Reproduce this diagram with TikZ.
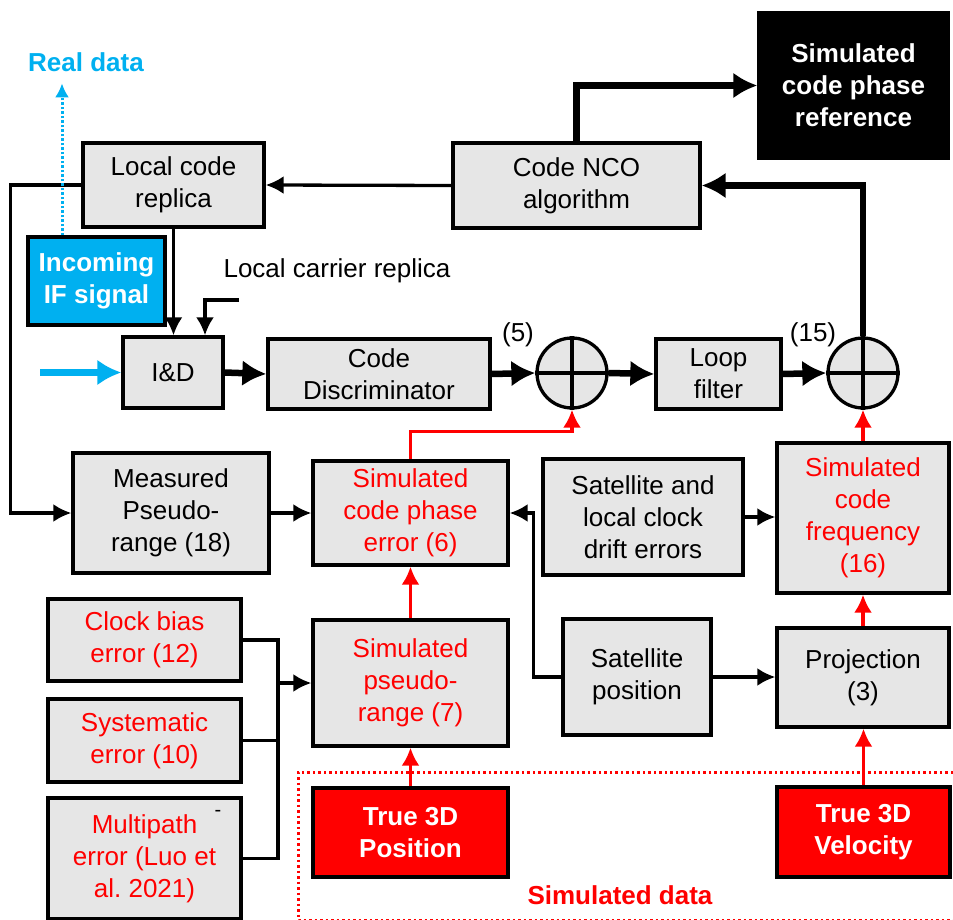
\documentclass[tikz,border=0pt]{standalone}
\usepackage{fontspec}
\setmainfont{Liberation Sans}
\usetikzlibrary{arrows.meta}

\definecolor{boxgray}{RGB}{230,230,230}
\definecolor{simred}{RGB}{255,0,0}
\definecolor{ifblue}{RGB}{0,176,240}

\tikzset{
	blk/.style={draw, line width=3.3pt, fill=boxgray, align=center, inner sep=1pt},
	simblk/.style={blk, text=simred},
	darkblk/.style={draw, line width=3.3pt, fill=black, text=white, align=center, font=\fontsize{26}{32}\selectfont\bfseries},
	trueblk/.style={darkblk, fill=simred},
	ifblk/.style={darkblk, fill=ifblue},
	sumnode/.style={draw, circle, line width=3.3pt, fill=boxgray, minimum size=70, inner sep=0pt},
	arr/.style={line width=3.3pt, -{Latex[length=18pt, width=18pt]}},
	conn/.style={line width=3.3pt},
	thickarr/.style={line width=6.5pt, -{Latex[length=24pt, width=26pt]}},
	redarr/.style={arr, simred},
}

\begin{document}
\begin{tikzpicture}[x=1pt, y=-1pt, font=\fontsize{26}{32}\selectfont]
	\useasboundingbox (0,0) rectangle (953,920);
	
	% simulated data frame
	\draw[simred, line width=3pt, dash pattern=on 2.5pt off 3pt] (953,772) -- (298,772) -- (298,920) -- (953,920);
	
	\node[blk, minimum width=181, minimum height=84] (lcr) at (173.5,185) {Local code\\replica};
	\node[blk, minimum width=247, minimum height=85] (nco) at (576.5,185.5) {Code NCO\\algorithm};
	\node[darkblk, minimum width=189, minimum height=145] (ref) at (853.5,85.5) {Simulated\\code phase\\reference};
	\node[ifblk, minimum width=137, minimum height=88] (ifs) at (96.5,281) {Incoming\\IF signal};
	\node[text=ifblue, font=\fontsize{26}{32}\selectfont\bfseries] (real) at (86,62) {Real data};
	
	\node[blk, minimum width=100, minimum height=71] (iad) at (173,372.5) {I\&D};
	\node[blk, minimum width=222, minimum height=70] (disc) at (379,374) {Code\\Discriminator};
	\node[sumnode] (sum1) at (572,373) {};
	\node[blk, minimum width=125, minimum height=70] (loop) at (718.5,374) {Loop\\filter};
	\node[sumnode] (sum2) at (863,373) {};
	\node (n5) at (518,335) {(5)};
	\node (n15) at (813,335) {(15)};
	\node (carrtxt) at (337,271) {Local carrier replica};
	
	\node[blk, minimum width=196, minimum height=120] (mpr) at (171,513) {Measured\\Pseudo-\\range (18)};
	\node[simblk, minimum width=195, minimum height=104] (scpe) at (410.5,513) {Simulated\\code phase\\error (6)};
	\node[blk, minimum width=200, minimum height=116] (scde) at (643,517) {Satellite and\\local clock\\drift errors};
	\node[simblk, minimum width=172, minimum height=150] (scf) at (863,518) {Simulated\\code\\frequency\\(16)};
	
	\node[blk, minimum width=148, minimum height=116] (spos) at (637,677) {Satellite\\position};
	\node[blk, minimum width=172, minimum height=99] (proj) at (863,677.5) {Projection\\(3)};
	\node[simblk, minimum width=195, minimum height=126] (spr) at (410.5,683) {Simulated\\pseudo-\\range (7)};
	\node[simblk, minimum width=193, minimum height=82] (clk) at (144.5,640) {Clock bias\\error (12)};
	\node[simblk, minimum width=193, minimum height=83] (sys) at (144.5,740.5) {Systematic\\error (10)};
	\node[simblk, minimum width=193, minimum height=121] (mp) at (144.5,858.5) {Multipath\\error (Luo et\\al.\ 2021)};
	\node[font=\fontsize{20}{24}\selectfont, inner sep=0pt] (dash) at (218,813) {-};
	\node[trueblk, minimum width=195, minimum height=89] (tpos) at (410.5,832.5) {True 3D\\Position};
	\node[trueblk, minimum width=173, minimum height=90] (tvel) at (863.5,832) {True 3D\\Velocity};
	\node[text=simred, font=\fontsize{26}{32}\selectfont\bfseries] (simdata) at (620,895) {Simulated data};
	
	\foreach \s in {sum1,sum2}
		\draw[conn] (\s.north) -- (\s.south) (\s.west) -- (\s.east);
	
	% code loop
	\draw[arr] (nco.west) -- (lcr.east);
	\draw[thickarr] (nco.north) |- (ref.west);
	\draw[thickarr] (sum2.north) |- (nco.east);
	\draw[arr] (lcr.south) -- (lcr.south |- iad.north);
	\draw[arr] (lcr.west) -- ++(-71,0) |- (mpr.west);
	\coordinate (carr) at (239,300);
	\draw[arr] (carr) -| ([xshift=32pt]iad.north);
	\coordinate (ifin) at (40,372.5);
	\draw[ifblue, line width=7pt, -{Latex[length=24pt, width=26pt]}] (ifin) -- (iad.west);
	\draw[ifblue, line width=3pt, dash pattern=on 2.5pt off 2pt, -{Latex[length=14pt, width=14pt]}] ([xshift=-34.5pt]ifs.north) -- ++(0,-152);
	
	\draw[thickarr] (iad.east) -- (disc.west);
	\draw[thickarr] (disc.east) -- (sum1.west);
	\draw[thickarr] (sum1.east) -- (loop.west);
	\draw[thickarr] (loop.east) -- (sum2.west);
	
	% simulated inputs
	\draw[redarr] (scpe.north) -- ++(0,-28) -| (sum1.south);
	\draw[redarr] (scf.north) -- (sum2.south);
	\draw[redarr] (spr.north) -- (scpe.south);
	\draw[redarr] (tpos.north) -- (spr.south);
	\draw[redarr] (proj.north) -- (scf.south);
	\draw[redarr] (tvel.north) -- (tvel.north |- proj.south);
	
	\draw[arr] (mpr.east) -- (scpe.west);
	\draw[arr] (scde.east) -- (scde.east -| scf.west);
	\draw[arr] (spos.west) -- ++(-28,0) |- (scpe.east);
	\draw[arr] (spos.east) -- (spos.east -| proj.west);
	
	\coordinate (bus) at (278,683);
	\draw[conn] (clk.east) -| (bus |- mp.east) -- (mp.east);
	\draw[conn] (sys.east) -- (sys.east -| bus);
	\draw[arr] (bus) -- (spr.west);
\end{tikzpicture}
\end{document}
